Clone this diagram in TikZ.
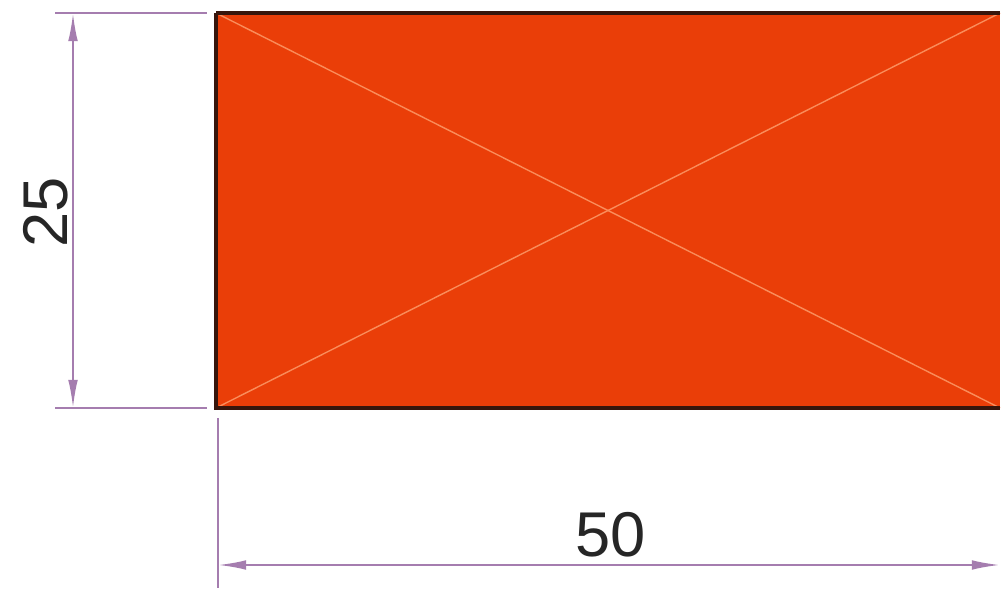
\documentclass[tikz,border=0pt]{standalone}
\usepackage{fontspec}
\setmainfont{Liberation Sans}
\usepackage{xcolor}
\usetikzlibrary{arrows.meta}

\definecolor{platefill}{RGB}{234,62,8}
\definecolor{plateedge}{RGB}{55,22,12}
\definecolor{crossline}{RGB}{250,140,90}
\definecolor{dimline}{RGB}{165,125,175}

\tikzset{
  dimarrow/.style={dimline, line width=1.2pt, {Latex[length=16pt,width=5.5pt]}-{Latex[length=16pt,width=5.5pt]}},
  extline/.style={dimline, line width=1.1pt},
  dimtext/.style={font=\fontsize{36}{36}\selectfont, text=black!85, inner sep=0pt}
}

\begin{document}
\begin{tikzpicture}[x=0.02cm, y=-0.02cm]
            \useasboundingbox (0,0) rectangle (1001,590);

            % plate corners
            \coordinate (tl) at (216,13);
            \coordinate (tr) at (1000,13);
            \coordinate (br) at (1000,408);
            \coordinate (bl) at (216,408);

            \fill[platefill] (tl) rectangle (br);
            \draw[crossline, line width=0.8pt] (tl) -- (br);
            \draw[crossline, line width=0.8pt] (tr) -- (bl);
            \draw[plateedge, line width=2.4pt] (tl) -- (tr);
            \draw[plateedge, line width=2.4pt] (tl) -- (bl) -- (br);

            % extension lines
            \coordinate (ht1) at (55,13);   \coordinate (ht2) at (207,13);
            \coordinate (hb1) at (55,408);  \coordinate (hb2) at (207,408);
            \coordinate (vl1) at (218,418); \coordinate (vl2) at (218,588);
            \draw[extline] (ht1) -- (ht2);
            \draw[extline] (hb1) -- (hb2);
            \draw[extline] (vl1) -- (vl2);

            % dimension lines
            \coordinate (h1) at (73,13);  \coordinate (h2) at (73,408);
            \coordinate (w1) at (218,565); \coordinate (w2) at (1000,565);
            \draw[dimarrow] (h1) -- (h2);
            \draw[dimarrow] (w1) -- (w2);

            \node[dimtext, rotate=90] (height) at (46,212) {25};
            \node[dimtext] (width) at (611,535) {50};
\end{tikzpicture}
\end{document}
